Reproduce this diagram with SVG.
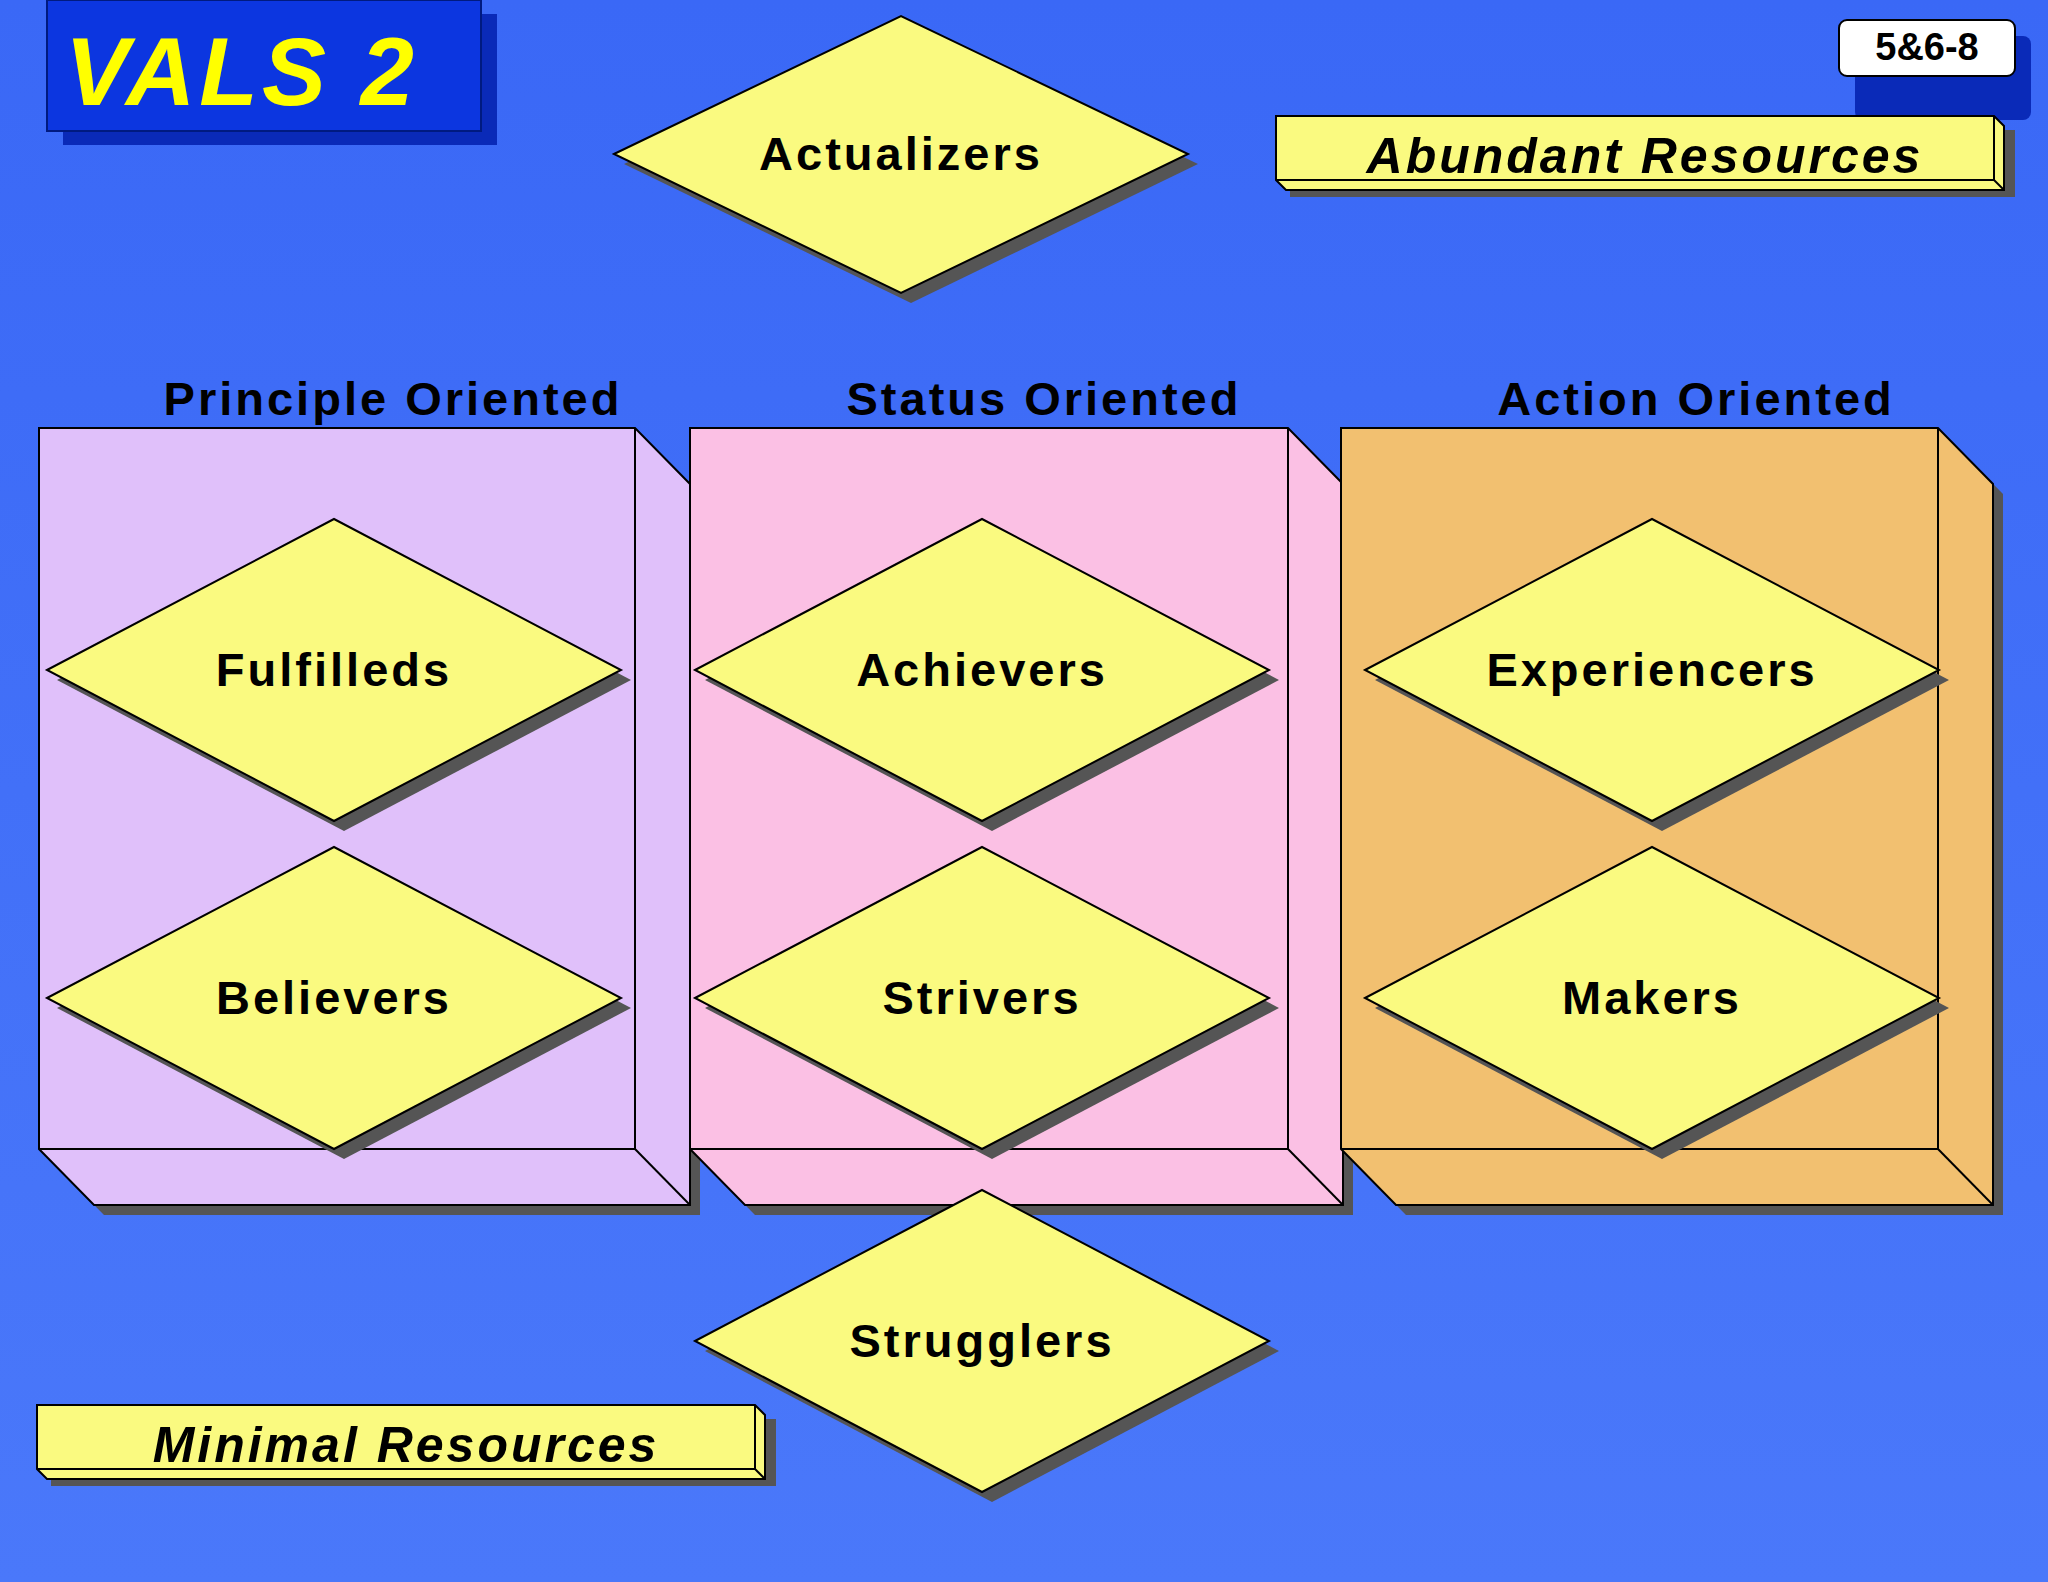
<svg xmlns="http://www.w3.org/2000/svg" width="2048" height="1582" viewBox="0 0 2048 1582">
<defs>
<linearGradient id="bg" x1="0" y1="0" x2="0" y2="1"><stop offset="0" stop-color="#3A68F6"/><stop offset="1" stop-color="#4A78FA"/></linearGradient>
<style>
.st{stroke:#000;stroke-width:2}
.dia{fill:#FAFA80;stroke:#000;stroke-width:2}
.sh{fill:#555}
.lbl{font-family:"Liberation Sans",Arial,sans-serif;font-weight:bold;font-size:47px;letter-spacing:3px;text-anchor:middle;fill:#000}
.res{font-family:"Liberation Sans",Arial,sans-serif;font-weight:bold;font-style:italic;font-size:50px;letter-spacing:3px;text-anchor:middle;fill:#000}
</style>
</defs>
<rect width="2048" height="1582" fill="url(#bg)"/>
<g id="title">
<rect x="63" y="14" width="434" height="131" fill="#0A2AB8"/>
<rect x="47" y="0" width="434" height="131" fill="#0C36E0" stroke="#001A80" stroke-width="2"/>
<text x="65" y="105" font-family="Liberation Sans,Arial,sans-serif" font-weight="bold" font-style="italic" font-size="96" fill="#FFFF00" letter-spacing="4">VALS 2</text>
</g>
<g id="badge">
<rect x="1855" y="36" width="176" height="84" rx="8" fill="#0A2AB8"/>
<rect x="1839" y="20" width="176" height="56" rx="8" fill="#fff" stroke="#000" stroke-width="2"/>
<text x="1927" y="60" font-family="Liberation Sans,Arial,sans-serif" font-weight="bold" font-size="38" text-anchor="middle">5&amp;6-8</text>
</g>
<g id="abundant">
<rect x="1290" y="130" width="725" height="67" class="sh"/>
<polygon points="1276,116 1994,116 2004,126 2004,190 1286,190 1276,180" fill="#FAFA80" class="st"/>
<polyline points="1994,116 1994,180 1276,180 M1994,180" fill="none" class="st"/>
<line x1="1994" y1="180" x2="2004" y2="190" class="st"/>
<text x="1645" y="173" class="res">Abundant Resources</text>
</g>
<g id="minimal">
<rect x="51" y="1419" width="725" height="67" class="sh"/>
<polygon points="37,1405 755,1405 765,1415 765,1479 47,1479 37,1469" fill="#FAFA80" class="st"/>
<polyline points="755,1405 755,1469 37,1469" fill="none" class="st"/>
<line x1="755" y1="1469" x2="765" y2="1479" class="st"/>
<text x="406" y="1462" class="res">Minimal Resources</text>
</g>
<g id="headers">
<text x="393" y="415" class="lbl">Principle Oriented</text>
<text x="1044" y="415" class="lbl">Status Oriented</text>
<text x="1696" y="415" class="lbl">Action Oriented</text>
</g>
<g id="box-principle">
<polygon points="49,438 645,438 700,494 700,1215 104,1215 49,1159" class="sh"/>
<polygon points="39,428 635,428 690,484 690,1205 94,1205 39,1149" fill="#E0C0FA" class="st"/>
<polyline points="635,428 635,1149 39,1149" fill="none" class="st"/>
<line x1="635" y1="1149" x2="690" y2="1205" class="st"/>
</g>
<g id="box-status">
<polygon points="700,438 1298,438 1353,494 1353,1215 755,1215 700,1159" class="sh"/>
<polygon points="690,428 1288,428 1343,484 1343,1205 745,1205 690,1149" fill="#FBC0E4" class="st"/>
<polyline points="1288,428 1288,1149 690,1149" fill="none" class="st"/>
<line x1="1288" y1="1149" x2="1343" y2="1205" class="st"/>
</g>
<g id="box-action">
<polygon points="1351,438 1948,438 2003,494 2003,1215 1406,1215 1351,1159" class="sh"/>
<polygon points="1341,428 1938,428 1993,484 1993,1205 1396,1205 1341,1149" fill="#F2C070" class="st"/>
<polyline points="1938,428 1938,1149 1341,1149" fill="none" class="st"/>
<line x1="1938" y1="1149" x2="1993" y2="1205" class="st"/>
</g>
<g id="connectors"></g>
<g id="actualizers">
<polygon points="624,164 911,26 1198,164 911,303" class="sh"/>
<polygon points="614,154 901,16 1188,154 901,293" class="dia"/>
<text x="901" y="170" class="lbl">Actualizers</text>
</g>
<g id="fulfilleds">
<polygon points="57,680 344,529 631,680 344,831" class="sh"/>
<polygon points="47,670 334,519 621,670 334,821" class="dia"/>
<text x="334" y="686" class="lbl">Fulfilleds</text>
</g>
<g id="believers">
<polygon points="57,1008 344,857 631,1008 344,1159" class="sh"/>
<polygon points="47,998 334,847 621,998 334,1149" class="dia"/>
<text x="334" y="1014" class="lbl">Believers</text>
</g>
<g id="achievers">
<polygon points="705,680 992,529 1279,680 992,831" class="sh"/>
<polygon points="695,670 982,519 1269,670 982,821" class="dia"/>
<text x="982" y="686" class="lbl">Achievers</text>
</g>
<g id="strivers">
<polygon points="705,1008 992,857 1279,1008 992,1159" class="sh"/>
<polygon points="695,998 982,847 1269,998 982,1149" class="dia"/>
<text x="982" y="1014" class="lbl">Strivers</text>
</g>
<g id="experiencers">
<polygon points="1375,680 1662,529 1949,680 1662,831" class="sh"/>
<polygon points="1365,670 1652,519 1939,670 1652,821" class="dia"/>
<text x="1652" y="686" class="lbl">Experiencers</text>
</g>
<g id="makers">
<polygon points="1375,1008 1662,857 1949,1008 1662,1159" class="sh"/>
<polygon points="1365,998 1652,847 1939,998 1652,1149" class="dia"/>
<text x="1652" y="1014" class="lbl">Makers</text>
</g>
<g id="strugglers">
<polygon points="705,1351 992,1200 1279,1351 992,1502" class="sh"/>
<polygon points="695,1341 982,1190 1269,1341 982,1492" class="dia"/>
<text x="982" y="1357" class="lbl">Strugglers</text>
</g>
</svg>
